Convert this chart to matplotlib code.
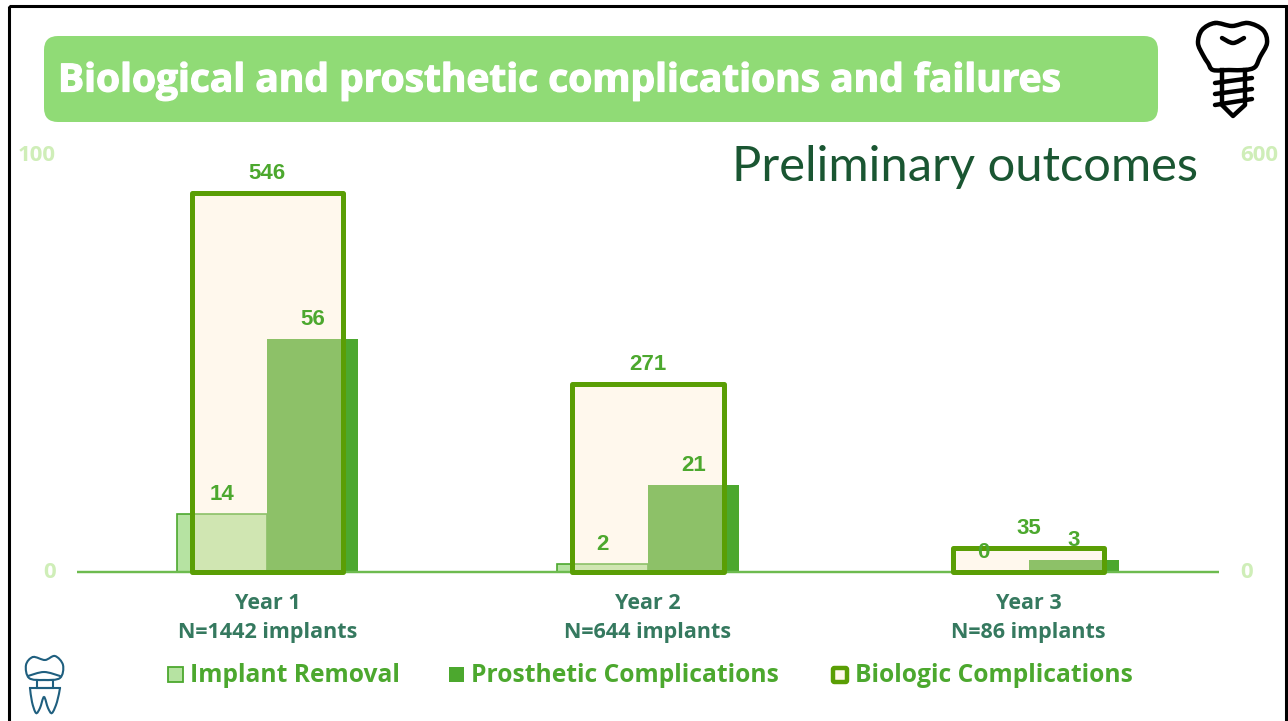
import matplotlib
matplotlib.use("Agg")
import matplotlib.pyplot as plt
import matplotlib.patheffects as pe
from matplotlib.patches import FancyBboxPatch, Rectangle, PathPatch
from matplotlib.path import Path
from matplotlib.transforms import ScaledTranslation
import numpy as np

W, H = 1288, 721

years = ["Year 1\nN=1442 implants", "Year 2\nN=644 implants", "Year 3\nN=86 implants"]
implant_removal = [14, 2, 0]
prosthetic = [56, 21, 3]
biologic = [546, 271, 35]

LIGHT = "#b6e3a2"
MID = "#4ca82e"
DARK = "#5a9e05"
CREAM = (1.0, 0.93, 0.81, 0.363)
FAINT = "#cfeeb8"
CAT = "#35795f"
BLUE = "#1f5f7f"

plt.rcParams["font.family"] = ["Open Sans", "DejaVu Sans"]
fig = plt.figure(figsize=(W / 100, H / 100), dpi=100)

# pixel canvas for the slide decoration
bg = fig.add_axes([0, 0, 1, 1], zorder=0)
bg.set_xlim(0, W)
bg.set_ylim(H, 0)
bg.axis("off")
bg.add_patch(Rectangle((9, 6), 1277, 730, fill=False, ec="black", lw=2.2))
bg.add_patch(FancyBboxPatch((56, 48), 1090, 62, boxstyle="round,pad=12,rounding_size=14",
                            fc="#90db76", ec="none"))
title = bg.text(58, 81, "Biological and prosthetic complications and failures", color="white",
                fontsize=28, fontweight="bold", va="center", ha="left")
title.set_path_effects([pe.withStroke(linewidth=0.9, foreground="white")])
bg.text(1198, 167, "Preliminary outcomes", color="#1a5632", fontsize=35.2, va="center", ha="right",
        family=["Lato", "DejaVu Sans"])


def icon(pts, closed=False, color="black", lw=3.2):
    # smooth curve through the points (catmull-rom to bezier)
    p = np.array(pts, dtype=float)
    n = len(p)
    verts = [p[0]]
    codes = [Path.MOVETO]
    for i in range(n if closed else n - 1):
        p0 = p[(i - 1) % n] if closed or i > 0 else p[i]
        p1, p2 = p[i], p[(i + 1) % n]
        p3 = p[(i + 2) % n] if closed or i + 2 < n else p2
        verts += [p1 + (p2 - p0) / 6, p2 - (p3 - p1) / 6, p2]
        codes += [Path.CURVE4] * 3
    bg.add_patch(PathPatch(Path(verts, codes), fill=False, ec=color, lw=lw, capstyle="round"))


# implant icon, top right
icon([(1215, 23), (1232, 26), (1248, 23), (1263, 30), (1267, 43), (1260, 57), (1255, 67),
      (1245, 70), (1229, 70), (1213, 70), (1208, 63), (1203, 55), (1198, 43), (1202, 30)], closed=True)
icon([(1222, 38), (1233, 43), (1244, 38)])
for y0, y1 in [(83, 78), (94, 89), (105, 99)]:
    bg.plot([1215, 1252], [y0, y1], color="black", lw=3.2, solid_capstyle="round")
bg.plot([1222, 1222, 1233, 1245, 1245], [70, 105, 116, 105, 70], color="black", lw=3.2,
        solid_joinstyle="round")

# crown icon, bottom left
icon([(33, 657), (45, 660), (55, 656), (63, 665), (60, 678), (44, 680), (29, 678), (26, 665)],
     closed=True, color=BLUE, lw=1.5)
icon([(28, 676), (44, 672), (60, 676)], color=BLUE, lw=1.5)
bg.add_patch(Rectangle((37, 680), 16, 8, fill=False, ec=BLUE, lw=1.5))
bg.plot([30, 60], [688, 688], color=BLUE, lw=1.5)
icon([(30, 688), (32, 702), (36, 713), (40, 708), (44, 697), (48, 708), (52, 713), (57, 702), (60, 688)],
     color=BLUE, lw=1.5)

# chart, positioned in figure fractions from the pixel frame
left, right, top, bottom = 77, 1219, 155.5, 572
ax = fig.add_axes([left / W, 1 - bottom / H, (right - left) / W, (bottom - top) / H], zorder=1)
ax2 = ax.twinx()
ax.patch.set_alpha(0)
ax2.patch.set_alpha(0)
ax.set_zorder(1)
ax2.set_zorder(2)

x = np.arange(len(years))
bw = 0.238
ax.bar(x - bw / 2, implant_removal, bw, color=LIGHT, edgecolor=MID, linewidth=1.2, zorder=2)
ax.bar(x + bw / 2, prosthetic, bw, color=MID, linewidth=0, zorder=2)
ax2.bar(x, biologic, 0.397, facecolor=CREAM, edgecolor=DARK, linewidth=3.6, joinstyle="round",
        zorder=3, clip_on=False)

ax.set_xlim(-0.5, 2.5)
ax.set_ylim(0, 100)
ax2.set_ylim(0, 600)
ax.set_xticks(x)
ax.set_xticklabels(years, color=CAT, fontsize=15.5, fontweight="bold", linespacing=1.5)
ax.tick_params(axis="x", length=0, pad=15)
ax.set_yticks([0, 100])
ax2.set_yticks([0, 600])
ax.tick_params(axis="y", length=0, colors=FAINT, labelsize=16, pad=15)
ax2.tick_params(axis="y", length=0, colors=FAINT, labelsize=16, pad=15.5)
shift = ScaledTranslation(0, 2.5 / 100, fig.dpi_scale_trans)
for lab in ax.get_yticklabels() + ax2.get_yticklabels():
    lab.set_fontweight("bold")
    lab.set_transform(lab.get_transform() + shift)
for a in (ax, ax2):
    for name in ("top", "left", "right"):
        a.spines[name].set_visible(False)
    a.spines["bottom"].set_color("#6dbb4f")
    a.spines["bottom"].set_linewidth(1.6)
    a.spines["bottom"].set_capstyle("butt")

# all value labels sit on ax2 so the cream fill does not wash them out
lab_kw = dict(color=MID, fontsize=16, fontweight="bold", ha="center", va="center_baseline", zorder=6,
              family=["Liberation Sans", "DejaVu Sans"], xytext=(0, 22), textcoords="offset pixels")
for i in x:
    ax2.annotate(str(biologic[i]), (i, biologic[i]), **lab_kw)
    ax2.annotate(str(implant_removal[i]), (i - bw / 2, implant_removal[i]), xycoords=ax.transData, **lab_kw)
    ax2.annotate(str(prosthetic[i]), (i + bw / 2, prosthetic[i]), xycoords=ax.transData, **lab_kw)

# legend
bg.add_patch(Rectangle((168.5, 667), 15, 15, fc=LIGHT, ec=MID, lw=1.3))
bg.add_patch(Rectangle((449, 667), 15, 15, fc=MID, ec="none"))
bg.add_patch(FancyBboxPatch((833, 668), 14, 14, boxstyle="round,pad=0,rounding_size=1.5",
                            fc="#fff8ec", ec=DARK, lw=3.2))
for tx, name in [(190, "Implant Removal"), (471, "Prosthetic Complications"), (855, "Biologic Complications")]:
    bg.text(tx, 676, name, color=MID, fontsize=17.7, fontweight="bold", va="center", ha="left")

fig.savefig("out.png", dpi=100)
